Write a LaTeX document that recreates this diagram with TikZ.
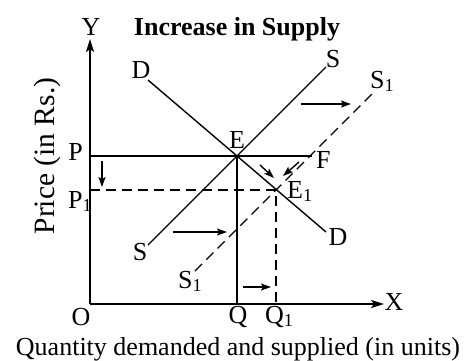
\documentclass[tikz,border=0pt]{standalone}
\usepackage{fontspec}
\setmainfont{Liberation Serif}
\usetikzlibrary{arrows.meta}

\tikzset{
  lbl/.style={font=\fontsize{26}{28}\selectfont, inner sep=0pt, anchor=base},
  curve/.style={line width=1.4pt},
  guide/.style={line width=1.4pt, dash pattern=on 10pt off 6pt},
  axis/.style={line width=1.8pt, -{Stealth[length=13pt,width=8pt,inset=3pt]}},
  moveArrow/.style={line width=1.4pt, -{Stealth[length=10pt,width=7pt,inset=2pt]}},
}

\begin{document}
\begin{tikzpicture}[x=1pt,y=-1pt]
    \useasboundingbox (0,0) rectangle (467,360);

    % axes and points
    \coordinate (O) at (90,304);
    \coordinate (Ytip) at (90,39);
    \coordinate (Xtip) at (384,304);
    \coordinate (E) at (237,156);
    \coordinate (E1) at (276,190);
    \coordinate (P) at (90,156);
    \coordinate (F) at (312,156);
    \coordinate (P1) at (90,190);
    \coordinate (Q) at (237,304);
    \coordinate (Q1) at (276,304);
    \coordinate (Dtop) at (148,80);
    \coordinate (Dbot) at (326,232);
    \coordinate (Sbot) at (148,245);
    \coordinate (Stop) at (326,67);
    \coordinate (S1bot) at (195,271);
    \coordinate (S1top) at (372,94);

    \draw[axis] (O) -- (Ytip);
    \draw[axis] (O) -- (Xtip);

    \draw[curve] (Dtop) -- (E) -- (Dbot);
    \draw[curve] (Sbot) -- (Stop);
    \draw[guide] (S1bot) -- (S1top);
    \draw[curve] (P) -- (F);
    \draw[curve] (E) -- (Q);
    \draw[guide] (P1) -- (E1) -- (Q1);

    % shift arrows
    \coordinate (a1s) at (102,161);  \coordinate (a1e) at (102,187);
    \coordinate (a2s) at (301,104);  \coordinate (a2e) at (351,104);
    \coordinate (a3s) at (173,232);  \coordinate (a3e) at (227,232);
    \coordinate (a4s) at (243,287);  \coordinate (a4e) at (271,287);
    \coordinate (a5s) at (260,165);  \coordinate (a5e) at (274,178);
    \coordinate (a6s) at (299,162);  \coordinate (a6e) at (283,176);
    \draw[moveArrow] (a1s) -- (a1e);
    \draw[moveArrow] (a2s) -- (a2e);
    \draw[moveArrow] (a3s) -- (a3e);
    \draw[moveArrow] (a4s) -- (a4e);
    \draw[moveArrow] (a5s) -- (a5e);
    \draw[moveArrow] (a6s) -- (a6e);

    % labels
    \node[lbl] (title) at (237,35) {\bfseries Increase in Supply};
    \node[lbl] (lY) at (91,35) {Y};
    \node[lbl] (lX) at (394,310) {X};
    \node[lbl] (lO) at (81,325) {O};
    \node[lbl] (lDtop) at (141,78) {D};
    \node[lbl] (lDbot) at (338,245) {D};
    \node[lbl] (lStop) at (333,67) {S};
    \node[lbl] (lSbot) at (140,260) {S};
    \node[lbl, anchor=base west] (lS1top) at (370,88) {S\textsubscript{1}};
    \node[lbl, anchor=base west] (lS1bot) at (178,288) {S\textsubscript{1}};
    \node[lbl] (lE) at (237,148) {E};
    \node[lbl, anchor=base west] (lE1) at (287,198) {E\textsubscript{1}};
    \node[lbl, anchor=base west] (lF) at (316,168) {F};
    \node[lbl, anchor=base east] (lP) at (83,160) {P};
    \node[lbl, anchor=base west] (lP1) at (68,208) {P\textsubscript{1}};
    \node[lbl] (lQ) at (238,323) {Q};
    \node[lbl, anchor=base west] (lQ1) at (265,323) {Q\textsubscript{1}};
    \node[lbl, rotate=90, font=\fontsize{29.5}{31}\selectfont] (yname) at (54,156) {Price (in Rs.)};
    \node[lbl] (xname) at (238,355) {Quantity demanded and supplied (in units)};
\end{tikzpicture}
\end{document}
